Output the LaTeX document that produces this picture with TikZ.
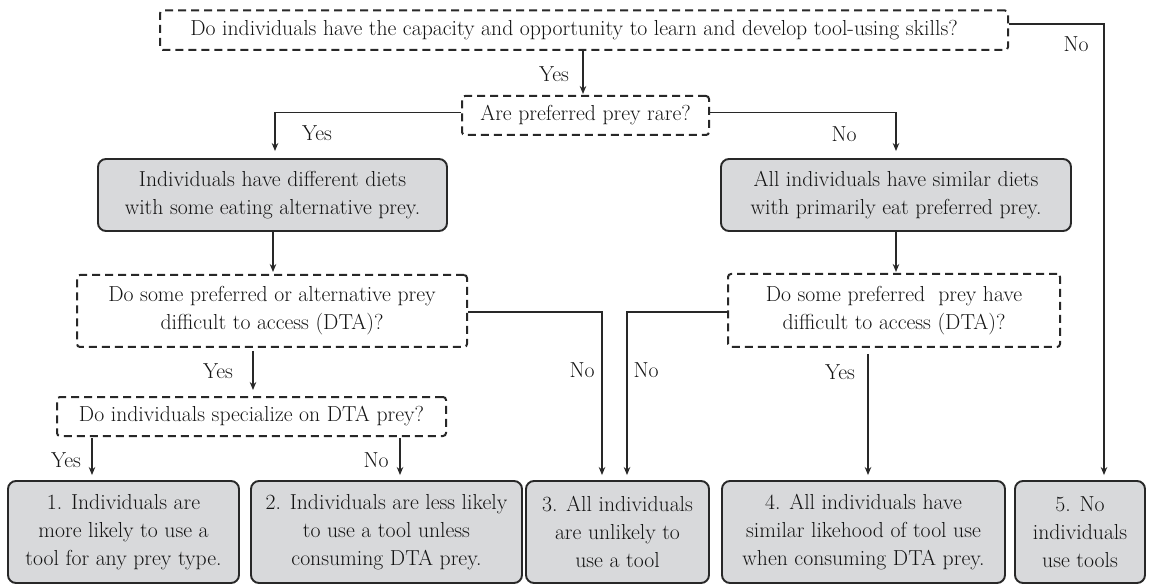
\documentclass[tikz,border=0pt]{standalone}
\usepackage{fontspec}
\usetikzlibrary{arrows.meta}
\definecolor{lc}{RGB}{40,40,40}
\definecolor{gf}{RGB}{216,217,219}
\definecolor{tc}{RGB}{20,20,20}
\newcommand{\fnt}{\fontsize{21.7}{28}\selectfont}
\begin{document}
\begin{tikzpicture}[x=1pt,y=-1pt,
 every node/.style={text=tc, font=\fnt, inner sep=0pt, align=center},
 qbox/.style={draw=lc, line width=2pt, dash pattern=on 8pt off 5pt, rounded corners=3pt},
 gbox/.style={draw=lc, line width=1.9pt, fill=gf, rounded corners=8pt},
 conn/.style={draw=lc, line width=1.9pt},
 arr/.style={conn, -{Stealth[length=8pt,width=6.5pt]}, shorten >=5pt},
]
\useasboundingbox (0,0) rectangle (1149,585);
% question boxes
\node[qbox, minimum width=848pt, minimum height=39.5pt] (q1) at (584,30.25)
  {Do individuals have the capacity and opportunity to learn and develop tool-using skills?\hspace*{20pt}};
\node[qbox, minimum width=247pt, minimum height=39pt] (q2) at (585.5,115.5)
  {Are preferred prey rare?};
\node[qbox, minimum width=390pt, minimum height=72pt] (q3) at (272,311)
  {Do some preferred or alternative prey\\difficult to access (DTA)?};
\node[qbox, minimum width=332pt, minimum height=73pt] (q4) at (894,310.5)
  {Do some preferred\ \ prey have\\difficult to access (DTA)?};
\node[qbox, minimum width=389pt, minimum height=39pt] (q5) at (251.5,416.5)
  {Do individuals specialize on DTA prey?};
% grey statement boxes
\node[gbox, minimum width=349pt, minimum height=72pt] (gL) at (272.5,195)
  {Individuals have different diets\\with some eating alternative prey.};
\node[gbox, minimum width=350pt, minimum height=72pt] (gR) at (896,195)
  {All individuals have similar diets\\with primarily eat preferred prey.};
% outcomes
\node[gbox, minimum width=231pt, minimum height=102pt] (b1) at (123.5,532)
  {1. Individuals are\\more likely to use a\\tool for any prey type.};
\node[gbox, minimum width=271pt, minimum height=102pt] (b2) at (386.5,532)
  {2. Individuals are less likely\\to use a tool unless\\consuming DTA prey.};
\node[gbox, minimum width=183pt, minimum height=102pt] (b3) at (617.5,532)
  {3. All individuals\\are unlikely to\\use a tool};
\node[gbox, minimum width=283pt, minimum height=102pt] (b4) at (863.5,532)
  {4. All individuals have\\similar likehood of tool use\\when consuming DTA prey.};
\node[gbox, minimum width=130pt, minimum height=102pt] (b5) at (1080,532)
  {5. No\\individuals\\use tools};
% connectors
\draw[arr, shorten >=1pt] ([xshift=-1pt]q1.south) -- ([xshift=-1pt]q1.south |- q2.north);
\draw[arr] ([yshift=6pt]q1.east) -| ([xshift=24pt]b5.north);
\draw[arr, shorten >=7pt] ([yshift=3pt]q2.west) -| ([xshift=2.5pt]gL.north);
\draw[arr, shorten >=7pt] ([yshift=3pt]q2.east) -| (gR.north);
\draw[arr, shorten >=2pt] ([xshift=0.5pt]gL.south) -- ([xshift=0.5pt]gL.south |- q3.north);
\draw[arr, shorten >=1pt] (gR.south) -- (gR.south |- q4.north);
\draw[arr] ([yshift=-1pt]q3.east) -| ([xshift=-15.5pt]b3.north);
\draw[arr] ([yshift=-1.5pt]q4.west) -| ([xshift=9.5pt]b3.north);
\draw[arr, shorten <=6pt] ([xshift=-26pt]q4.south) -- ([xshift=-26pt]q4.south |- b4.north);
\draw[arr, shorten <=3pt, shorten >=6pt] ([xshift=-19pt]q3.south) -- ([xshift=-19pt]q3.south |- q5.north);
\draw[arr, shorten <=1pt] ([xshift=-159.5pt]q5.south) -- ([xshift=-159.5pt]q5.south |- b1.north);
\draw[arr, shorten <=1pt] ([xshift=148.5pt]q5.south) -- ([xshift=148.5pt]q5.south |- b2.north);
% labels
\node (l1) at (554,74) {Yes};
\node (l2) at (1076,44) {No};
\node (l3) at (317,133) {Yes};
\node (l4) at (844,134) {No};
\node (l5) at (582,370) {No};
\node (l6) at (646,370) {No};
\node (l7) at (840,372) {Yes};
\node (l8) at (218,371) {Yes};
\node (l9) at (66,460) {Yes};
\node (l10) at (376,460) {No};
\end{tikzpicture}
\end{document}
